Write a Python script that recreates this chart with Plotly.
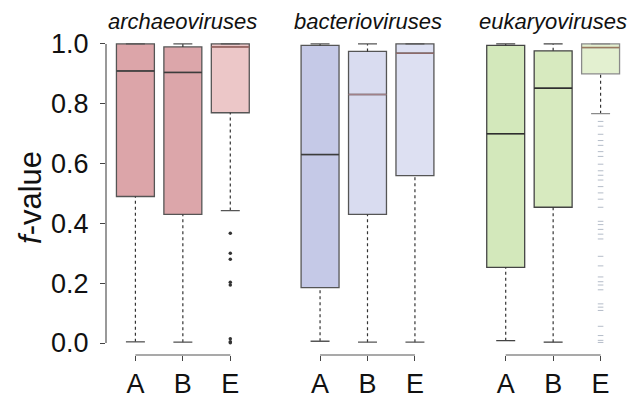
import plotly.graph_objects as go
from plotly.subplots import make_subplots

groups = ["archaeoviruses", "bacterioviruses", "eukaryoviruses"]
hosts = ["A", "B", "E"]

# box statistics per virus group, per host (A, B, E)
lower = [[0.004, 0.003, 0.443], [0.006, 0.003, 0.003], [0.008, 0.003, 0.767]]
q1 = [[0.49, 0.43, 0.77], [0.185, 0.43, 0.56], [0.253, 0.454, 0.90]]
median = [[0.91, 0.905, 0.99], [0.63, 0.831, 0.969], [0.70, 0.852, 0.988]]
q3 = [[1.0, 0.99, 1.0], [0.995, 0.975, 1.0], [0.995, 0.977, 1.0]]
upper = [[1.0, 1.0, 1.0], [1.0, 1.0, 1.0], [1.0, 1.0, 1.0]]

# outliers for the E boxes
outliers = [
    [0.367, 0.30, 0.28, 0.203, 0.194, 0.014, 0.004, 0.001],
    [],
    [0.741, 0.725, 0.698, 0.677, 0.661, 0.640, 0.624, 0.598, 0.576, 0.561,
     0.545, 0.523, 0.502, 0.481, 0.454, 0.407, 0.396, 0.380, 0.364, 0.348,
     0.290, 0.258, 0.221, 0.205, 0.194, 0.178, 0.131, 0.120, 0.109, 0.056,
     0.025, 0.009, 0.002],
]

fills = [["#dca5a9", "#dca6aa", "#ecc7c8"],
         ["#c5c9e7", "#d9dcf0", "#dde0f2"],
         ["#d3e8bb", "#d7eabf", "#e3f0d0"]]
median_cols = [["#3c3c3c", "#3c3c3c", "#a56a66"],
               ["#3c3c3c", "#a08088", "#8c6a6a"],
               ["#2e2e2e", "#2e2e2e", "#9a7a60"]]
outline_cols = [["#555555", "#555555", "#555555"],
                ["#555555", "#555555", "#555555"],
                ["#444444", "#444444", "#8a8a8a"]]
outlier_style = [dict(symbol="circle", size=3.5, color="#333333"),
                 None,
                 dict(symbol="line-ew", size=4, color="#b4bcc8",
                      line=dict(width=1, color="#b4bcc8"))]

font = "Liberation Sans, Arial, Helvetica, sans-serif"
W, H = 638, 403
L, R, T, B = 97.5, 15.5, 24.4, 39.4
pw = W - L - R
domains = [[0, 154 / pw], [185 / pw, 339 / pw], [371 / pw, 1.0]]

fig = make_subplots(rows=1, cols=3)
pos = [0, 1, 2]
bw = 0.8

for g in range(3):
    col = g + 1
    for h in range(3):
        x = pos[h]
        # dotted whiskers
        fig.add_trace(go.Scatter(x=[x, x], y=[lower[g][h], q1[g][h]], mode="lines",
                                 line=dict(color="#333333", width=1.2, dash="dot"),
                                 showlegend=False, hoverinfo="skip"), row=1, col=col)
        fig.add_trace(go.Scatter(x=[x, x], y=[q3[g][h], upper[g][h]], mode="lines",
                                 line=dict(color="#333333", width=1.2, dash="dot"),
                                 showlegend=False, hoverinfo="skip"), row=1, col=col)
        # caps
        for v in (lower[g][h], upper[g][h]):
            fig.add_trace(go.Scatter(x=[x - bw / 4, x + bw / 4], y=[v, v], mode="lines",
                                     line=dict(color=outline_cols[g][h], width=1.3),
                                     showlegend=False, hoverinfo="skip"), row=1, col=col)
        # box
        fig.add_trace(go.Box(x=[x], q1=[q1[g][h]], median=[median[g][h]], q3=[q3[g][h]],
                             lowerfence=[q1[g][h]], upperfence=[q3[g][h]], width=bw,
                             fillcolor=fills[g][h],
                             line=dict(color=outline_cols[g][h], width=1.3),
                             boxpoints=False, showlegend=False, hoverinfo="skip"),
                      row=1, col=col)
        # median line
        fig.add_trace(go.Scatter(x=[x - bw / 2, x + bw / 2], y=[median[g][h]] * 2, mode="lines",
                                 line=dict(color=median_cols[g][h], width=1.5),
                                 showlegend=False, hoverinfo="skip"), row=1, col=col)
    if outliers[g]:
        fig.add_trace(go.Scatter(x=[pos[2]] * len(outliers[g]), y=outliers[g], mode="markers",
                                 marker=outlier_style[g], showlegend=False, hoverinfo="skip"),
                      row=1, col=col)

    xa = "xaxis" if g == 0 else f"xaxis{g + 1}"
    ya = "yaxis" if g == 0 else f"yaxis{g + 1}"
    fig.layout[xa].update(domain=domains[g], range=[-0.62, 2.62], tickvals=pos, ticktext=hosts,
                          ticks="outside", ticklen=5, tickcolor="#444444", tickwidth=1.2,
                          showgrid=False, zeroline=False, showline=False,
                          tickfont=dict(family=font, size=27, color="#111111"))
    fig.layout[ya].update(range=[-0.04, 1.04], showgrid=False, zeroline=False, showline=False)
    if g == 0:
        fig.layout[ya].update(tickvals=[0, 0.2, 0.4, 0.6, 0.8, 1.0], tickformat=".1f",
                              ticks="outside", ticklen=5, tickcolor="#444444", tickwidth=1.2,
                              ticklabelstandoff=6,
                              tickfont=dict(family=font, size=27, color="#111111"))
    else:
        fig.layout[ya].update(showticklabels=False, ticks="")
    xr = "x" if g == 0 else f"x{g + 1}"
    yr = "y" if g == 0 else f"y{g + 1}"
    # bracket-style x axis line
    fig.add_shape(type="line", xref=xr, yref=f"{yr} domain", x0=pos[0], x1=pos[2], y0=0, y1=0,
                  line=dict(color="#555555", width=1.2))
    fig.add_annotation(text=f"<i>{groups[g]}</i>", xref=f"{xr} domain", yref="paper",
                       x=0.5, y=1, yanchor="bottom", yshift=-3, borderpad=0, showarrow=False,
                       font=dict(family=font, size=22, color="#111111"))

# y axis line from 0 to 1
fig.add_shape(type="line", xref="x domain", yref="y", x0=0, x1=0, y0=0, y1=1,
              line=dict(color="#555555", width=1.2))

fig.add_annotation(text="<i>f</i>-value", xref="paper", yref="paper",
                   x=(22 - L) / pw, y=(H - B - 198) / (H - T - B), textangle=-90,
                   xanchor="center", yanchor="middle",
                   showarrow=False, font=dict(family=font, size=31, color="#111111"))

fig.update_layout(width=W, height=H, margin=dict(l=L, r=R, t=T, b=B),
                  paper_bgcolor="white", plot_bgcolor="white")

fig.write_html("out.html")
